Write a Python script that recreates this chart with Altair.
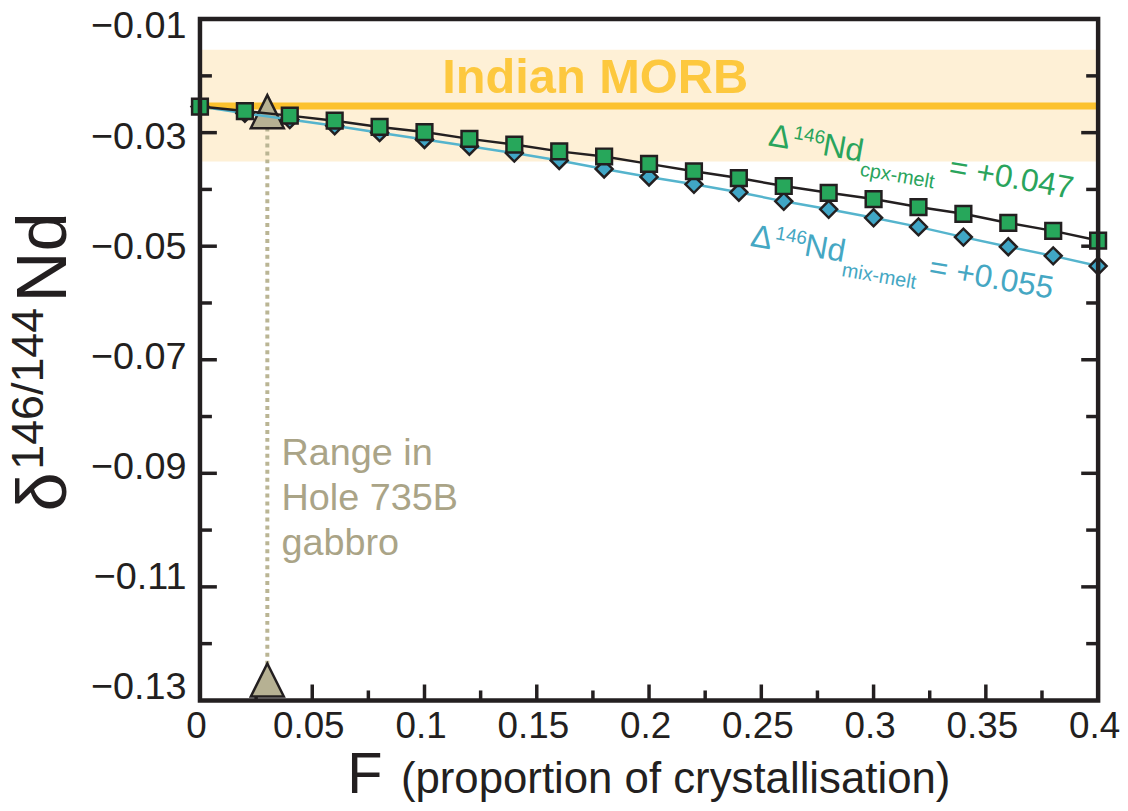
import altair as alt
import pandas as pd

# ---------------- data ----------------
F = [0.00, 0.02, 0.04, 0.06, 0.08, 0.10, 0.12, 0.14, 0.16, 0.18, 0.20,
     0.22, 0.24, 0.26, 0.28, 0.30, 0.32, 0.34, 0.36, 0.38, 0.40]
cpx_melt = [-0.0254, -0.0262, -0.0270, -0.0279, -0.0290, -0.0299, -0.0311,
            -0.0321, -0.0333, -0.0342, -0.0355, -0.0368, -0.0380, -0.0394,
            -0.0406, -0.0417, -0.0431, -0.0443, -0.0459, -0.0473, -0.0490]
mix_melt = [-0.0254, -0.0266, -0.0277, -0.0288, -0.0300, -0.0312, -0.0324,
            -0.0336, -0.0349, -0.0364, -0.0378, -0.0391, -0.0405, -0.0421,
            -0.0435, -0.0450, -0.0466, -0.0484, -0.0501, -0.0517, -0.0535]

morb_band = [-0.0154, -0.0351]
morb_value = -0.0253
gabbro_F = 0.03
gabbro_range = [-0.0263, -0.1264]
range_lines = ["Range in", "Hole 735B", "gabbro"]
range_line_y = [-0.0885, -0.0964, -0.1043]

x_ticks = [0, 0.05, 0.1, 0.15, 0.2, 0.25, 0.3, 0.35, 0.4]
x_minor = [0.025, 0.075, 0.125, 0.175, 0.225, 0.275, 0.325, 0.375]
y_ticks = [-0.13, -0.11, -0.09, -0.07, -0.05, -0.03, -0.01]
y_major_inner = [-0.11, -0.09, -0.07, -0.05, -0.03]
y_minor = [-0.12, -0.10, -0.08, -0.06, -0.04, -0.02]

# ---------------- styles ----------------
W, H = 903, 685
FONT = "Liberation Sans"
INK = "#231f20"
BAND = "#fef0d6"
MORB = "#fcc22e"
MORB_TXT = "#fdc83e"
GREEN = "#27a75b"
GREEN_TXT = "#2aa45c"
BLUE = "#40a6c6"
BLUE_LINE = "#55b4cd"
BLUE_TXT = "#45a7c3"
KHAKI = "#b6b193"
KHAKI_LINE = "#bab594"
KHAKI_TXT = "#aaa487"

xs = alt.Scale(domain=[0, 0.4], nice=False, zero=False)
ys = alt.Scale(domain=[-0.13, -0.01], nice=False, zero=False)
x_axis = alt.Axis(values=x_ticks, format="~f", title=None, grid=False, domain=False,
                  ticks=False, tickSize=0, labelFont=FONT, labelFontSize=37,
                  labelColor=INK, labelPadding=8, labelOffset=-4,
                  labelFlush=False, labelOverlap=False)
y_axis = alt.Axis(values=y_ticks, format=".2f", title=None, grid=False, domain=False,
                  ticks=False, tickSize=0, labelFont=FONT, labelFontSize=38,
                  labelColor=INK, labelPadding=14,
                  labelOffset=alt.ExprRef("8 + 175 * (datum.value + 0.01)"),
                  labelFlush=False, labelOverlap=False)


def X(f):
    return alt.X(f, type="quantitative", scale=xs, axis=x_axis, title=None)


def Y(f):
    return alt.Y(f, type="quantitative", scale=ys, axis=y_axis, title=None)


series = pd.DataFrame({"F": F, "cpx": cpx_melt, "mix": mix_melt})

band = alt.Chart(pd.DataFrame({"F0": [0.0], "F1": [0.4], "y0": [morb_band[0]], "y1": [morb_band[1]]})).mark_rect(
    color=BAND).encode(x=X("F0"), x2="F1", y=Y("y0"), y2="y1")

morb_line = alt.Chart(pd.DataFrame({"F0": [0.0], "F1": [0.4], "y": [morb_value]})).mark_rule(
    color=MORB, strokeWidth=7).encode(x=X("F0"), x2="F1", y=Y("y"))

morb_text = alt.Chart(pd.DataFrame({"F": [0.176], "y": [-0.0231], "t": ["Indian MORB"]})).mark_text(
    font=FONT, fontSize=49, fontWeight="bold", color=MORB_TXT, align="center", baseline="alphabetic"
).encode(x=X("F"), y=Y("y"), text="t:N")

# minor/major ticks (drawn through the scales, inward)
xt_major = alt.Chart(pd.DataFrame({"F": x_ticks[1:-1]})).mark_rule(color=INK, strokeWidth=3.5).encode(
    x=X("F"), y=alt.value(H), y2=alt.value(H - 16))
xt_minor = alt.Chart(pd.DataFrame({"F": x_minor})).mark_rule(color=INK, strokeWidth=3.5).encode(
    x=X("F"), y=alt.value(H), y2=alt.value(H - 10))
yl_major = alt.Chart(pd.DataFrame({"v": y_major_inner})).mark_rule(color=INK, strokeWidth=3.5).encode(
    y=Y("v"), x=alt.value(0), x2=alt.value(17))
yl_minor = alt.Chart(pd.DataFrame({"v": y_minor})).mark_rule(color=INK, strokeWidth=3.5).encode(
    y=Y("v"), x=alt.value(0), x2=alt.value(12))
yr_major = alt.Chart(pd.DataFrame({"v": y_major_inner})).mark_rule(color=INK, strokeWidth=3.5).encode(
    y=Y("v"), x=alt.value(W), x2=alt.value(W - 17))
yr_minor = alt.Chart(pd.DataFrame({"v": y_minor})).mark_rule(color=INK, strokeWidth=3.5).encode(
    y=Y("v"), x=alt.value(W), x2=alt.value(W - 12))

# gabbro range
gab = pd.DataFrame({"F": [gabbro_F, gabbro_F], "v": gabbro_range})
gab_line = alt.Chart(pd.DataFrame({"F": [gabbro_F], "v0": [gabbro_range[0]], "v1": [gabbro_range[1]]})).mark_rule(
    color=KHAKI_LINE, strokeWidth=4, strokeDash=[4, 4]).encode(x=X("F"), y=Y("v0"), y2="v1")
gab_tri = alt.Chart(gab).mark_point(shape="M0,-1L1,1L-1,1Z", size=1100, filled=True, fill=KHAKI,
                                    stroke=INK, strokeWidth=2.5, opacity=1).encode(x=X("F"), y=Y("v"))
gab_text = alt.Chart(pd.DataFrame({"F": [0.0363] * 3, "v": range_line_y, "t": range_lines})).mark_text(
    font=FONT, fontSize=38, color=KHAKI_TXT, align="left", baseline="alphabetic"
).encode(x=X("F"), y=Y("v"), text="t:N")

# model curves
mix_line = alt.Chart(series).mark_line(color=BLUE_LINE, strokeWidth=2.5).encode(x=X("F"), y=Y("mix"))
mix_pts = alt.Chart(series).mark_point(shape="diamond", size=290, filled=True, fill=BLUE, stroke=INK,
                                       strokeWidth=2.5, opacity=1).encode(x=X("F"), y=Y("mix"))
cpx_line = alt.Chart(series).mark_line(color=INK, strokeWidth=2.5).encode(x=X("F"), y=Y("cpx"))
cpx_pts = alt.Chart(series).mark_point(shape="square", size=250, filled=True, fill=GREEN, stroke=INK,
                                       strokeWidth=2.5, opacity=1).encode(x=X("F"), y=Y("cpx"))


def rotated_label(F0, v0, parts, color, angle=10):
    layers = []
    src = pd.DataFrame({"F": [F0], "v": [v0]})
    for txt, dx, dy, fs in parts:
        layers.append(alt.Chart(src).mark_text(
            font=FONT, fontSize=fs, color=color, align="left", baseline="alphabetic",
            angle=angle, dx=dx, dy=dy).encode(x=X("F"), y=Y("v"), text=alt.value(txt)))
    return layers


cpx_label = rotated_label(0.2528, -0.0322, [
    ("\u0394", 0, 0, 32), ("146", 24, -11, 19), ("Nd", 55, 0, 32),
    ("cpx-melt", 96, 14, 20), ("= +0.047", 184, 0, 32)], GREEN_TXT)
mix_label = rotated_label(0.2447, -0.0499, [
    ("\u0394", 0, 0, 32), ("146", 24, -11, 19), ("Nd", 55, 0, 32),
    ("mix-melt", 96, 14, 20), ("= +0.055", 182, 0, 32)], BLUE_TXT)

# frame
frame = alt.Chart(pd.DataFrame({"a": [0]})).mark_rect(filled=False, stroke=INK, strokeWidth=4.5).encode(
    x=alt.value(0), x2=alt.value(W), y=alt.value(0), y2=alt.value(H))

# axis titles (mixed sizes, so drawn as text)
one = pd.DataFrame({"a": [0]})


def ptext(txt, x, y, fs, angle=0):
    kw = dict(font=FONT, fontSize=fs, color=INK, align="left", baseline="alphabetic")
    if angle:
        kw["angle"] = angle
    return alt.Chart(one).mark_text(**kw).encode(x=alt.value(x), y=alt.value(y), text=alt.value(txt))


titles = [
    ptext("F", 148, 778, 58),
    ptext("(proportion of crystallisation)", 202, 778, 44),
    ptext("\u03b4", -135, 495, 71, 270),
    ptext("146/144", -158, 453, 45, 270),
    ptext("Nd", -135, 285, 71, 270),
]

chart = alt.layer(
    band, morb_line, morb_text,
    xt_major, xt_minor, yl_major, yl_minor, yr_major, yr_minor,
    gab_line, gab_tri, gab_text,
    mix_line, mix_pts, cpx_line, cpx_pts,
    *cpx_label, *mix_label,
    frame, *titles,
).properties(
    width=W, height=H,
    autosize=alt.AutoSizeParams(type="none"),
    padding={"left": 193, "top": 9, "right": 22, "bottom": 104},
).configure_view(stroke=None).configure(background="white")

chart.save("out.html", embed_options={"renderer": "svg", "actions": False})
